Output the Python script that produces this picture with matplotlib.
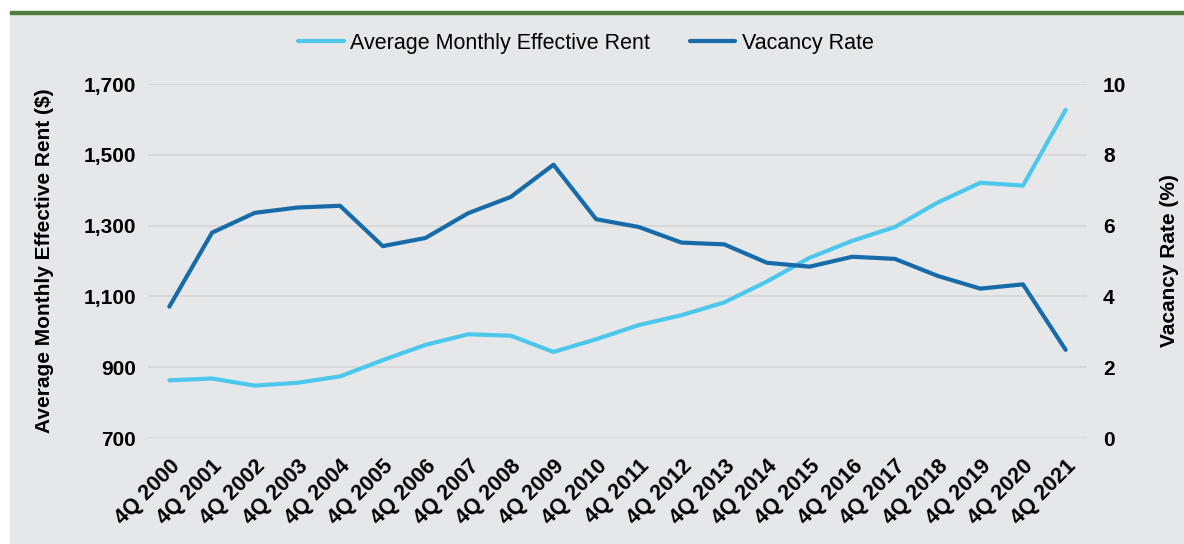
""" Rent and vacancy chart with Matplotlib """

# Imports
import matplotlib.pyplot as plt
from matplotlib.patches import Rectangle
from matplotlib.ticker import FuncFormatter

plt.rcParams["font.family"] = ["Liberation Sans", "DejaVu Sans"]

# Data
quarters = ["4Q %d" % y for y in range(2000, 2022)]
rent = [863, 868, 848, 856, 874, 920, 963, 993, 989, 943, 979,
        1019, 1047, 1083, 1142, 1209, 1257, 1296, 1365, 1421, 1413, 1627]
vacancy = [3.71, 5.80, 6.36, 6.51, 6.56, 5.42, 5.65, 6.35, 6.81, 7.72, 6.18,
           5.96, 5.52, 5.47, 4.95, 4.84, 5.12, 5.06, 4.58, 4.22, 4.34, 2.49]

LIGHT = "#4DC8EC"
DARK = "#166BA8"
PANEL = "#E6E7E9"

fig = plt.figure(figsize=(11.84, 5.44), dpi=100)

# Grey panel and green rule at the top
fig.patches.append(Rectangle((10 / 1184, 0), 1, 1 - 14 / 544,
                             transform=fig.transFigure, color=PANEL, zorder=-5))
fig.patches.append(Rectangle((10 / 1184, 1 - 14 / 544), 1, 3 / 544,
                             transform=fig.transFigure, color="#4F7F3B", zorder=-5))

ax = fig.add_axes([148 / 1184, 1 - 438 / 544, 939 / 1184, 354 / 544])
ax.set_facecolor("none")
ax2 = ax.twinx()

x = range(len(quarters))
l1, = ax.plot(x, rent, color=LIGHT, lw=3, solid_capstyle="round",
              label="Average Monthly Effective Rent")
l2, = ax2.plot(x, vacancy, color=DARK, lw=3, solid_capstyle="round",
               label="Vacancy Rate")

ax.set_xlim(-0.5, len(quarters) - 0.5)
ax.set_ylim(700, 1700)
ax.set_yticks(range(700, 1701, 200))
ax.yaxis.set_major_formatter(FuncFormatter(lambda v, p: "{:,.0f}".format(v)))
ax2.set_ylim(0, 10)
ax2.set_yticks(range(0, 11, 2))

ax.grid(axis="y", color="#D6D6D8", lw=1.2)
ax.set_axisbelow(True)
for a in (ax, ax2):
    for s in a.spines.values():
        s.set_visible(False)
    a.tick_params(length=0, labelsize=15)
    for t in a.get_yticklabels():
        t.set_fontweight("bold")

ax.tick_params(axis="y", pad=8.5)
ax2.tick_params(axis="y", pad=11.5)
ax.set_xticks(list(x))
ax.set_xticklabels(quarters, rotation=45, ha="right", rotation_mode="anchor",
                   fontsize=15.5, fontweight="bold")
ax.tick_params(axis="x", pad=12.5)

ax.set_ylabel("Average Monthly Effective Rent ($)", fontsize=15,
              fontweight="bold", labelpad=21)
ax2.set_ylabel("Vacancy Rate (%)", fontsize=15, fontweight="bold", labelpad=24.5)

fig.legend(handles=[l1, l2], loc="center", bbox_to_anchor=(586 / 1184, 1 - 43 / 544),
           ncol=2, frameon=False, fontsize=15.5, handlelength=2.1,
           columnspacing=1.86, handletextpad=0.3)

plt.savefig("out.png", dpi=100)
